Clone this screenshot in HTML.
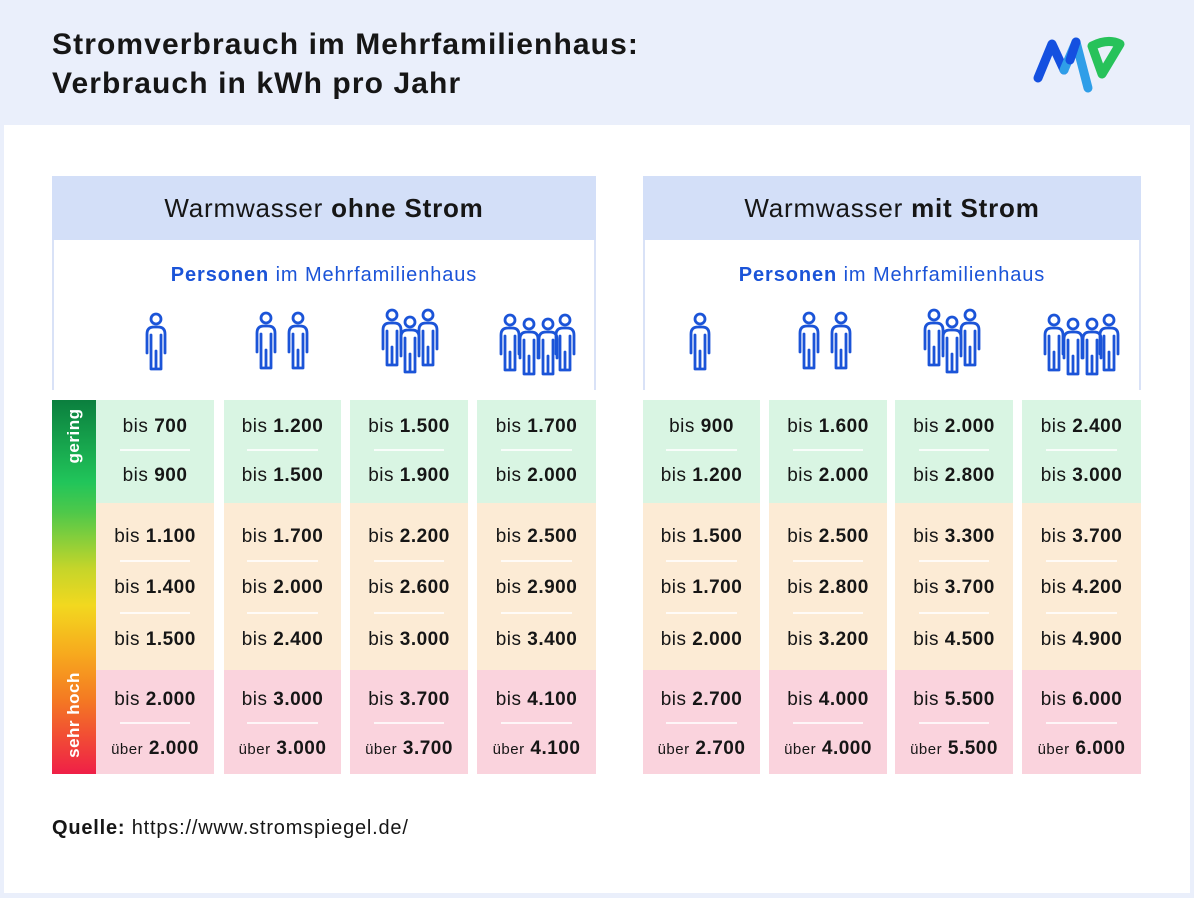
<!DOCTYPE html>
<html><head><meta charset="utf-8">
<style>
*{margin:0;padding:0;box-sizing:border-box}
body{width:1194px;height:898px;background:#eaeffb;font-family:"Liberation Sans",sans-serif;position:relative;overflow:hidden;color:#111}
.abs{position:absolute}
.title{left:52px;top:25px;font-size:30px;font-weight:bold;line-height:39px;color:#161616;letter-spacing:1.1px}
.panel{left:4px;top:125px;width:1186px;height:768px;background:#fff}
.hdr{background:#d3dff8;height:64px;font-size:26px;text-align:center;line-height:64px;color:#161616;letter-spacing:0.8px}
.sub{border-left:2px solid #d9e2f7;border-right:2px solid #d9e2f7;height:150px;background:#fff}
.pers{font-size:20px;color:#1b54d8;text-align:center;position:absolute;width:100%;top:24px;letter-spacing:0.9px}
.col{position:absolute;top:400px;height:374px}
.g{position:absolute;left:0;right:0;top:0;height:103px;background:#d9f5e3}
.o{position:absolute;left:0;right:0;top:103px;height:167px;background:#fcebd5}
.r{position:absolute;left:0;right:0;top:270px;height:104px;background:#fad3dd}
.v{position:absolute;left:0;right:0;text-align:center;font-size:19px;line-height:24px;color:#161616;letter-spacing:0.5px}
.v b{font-weight:bold}
.v small{font-size:15px}
.sep{position:absolute;left:20%;right:20%;height:2px;background:rgba(255,255,255,0.8)}
.bar{left:52px;top:400px;width:44px;height:374px;background:linear-gradient(#0b7f3e 0%,#21c55a 22%,#4ec84a 30%,#c5d52a 45%,#f2d81f 55%,#f7a91e 68%,#f47a22 80%,#ef1f47 100%)}
.vt{color:#fff;font-weight:bold;font-size:17px;transform:rotate(-90deg);transform-origin:center;white-space:nowrap;text-align:center;width:120px;letter-spacing:0.5px}
</style></head><body>
<div class="abs title">Stromverbrauch im Mehrfamilienhaus:<br>Verbrauch in kWh pro Jahr</div>
<svg class="abs" style="left:1030px;top:30px" width="100" height="70" viewBox="0 0 100 70">
<path d="M8 48 L22 14 L34 40" fill="none" stroke="#1450e0" stroke-width="9" stroke-linecap="round" stroke-linejoin="round"/>
<path d="M34 40 L46 12 L58 58" fill="none" stroke="#2f9ee8" stroke-width="9" stroke-linecap="round" stroke-linejoin="round"/>
<path d="M46 12 L40 30" stroke="#1450e0" stroke-width="9" stroke-linecap="round"/>
<path d="M62 16 Q78 8 90 14 L72 44 L62 16" fill="none" stroke="#27c25a" stroke-width="9" stroke-linecap="round" stroke-linejoin="round"/>
</svg>
<div class="abs panel"></div>

<svg width="0" height="0" style="position:absolute">
<defs>
<g id="p" fill="none" stroke="#1b54d8" stroke-width="2.8" stroke-linecap="round" stroke-linejoin="round">
<circle cx="12" cy="6" r="5"/>
<path d="M3 40 V21 Q3 14 10 14 H14 Q21 14 21 21 V40 M7 40 V22 M17 40 V22 M7 30 V56 H17 V30 M12 38 V56"/>
</g>
</defs></svg>

<div class="abs hdr" style="left:52px;top:176px;width:544px">Warmwasser <b>ohne Strom</b></div>
<div class="abs sub" style="left:52px;top:240px;width:544px">
<div class="pers"><b>Personen</b> im Mehrfamilienhaus</div>
</div>
<div class="abs hdr" style="left:643px;top:176px;width:498px">Warmwasser <b>mit Strom</b></div>
<div class="abs sub" style="left:643px;top:240px;width:498px">
<div class="pers"><b>Personen</b> im Mehrfamilienhaus</div>
</div>

<svg class="abs" style="left:0;top:0" width="1194" height="898">
<use href="#p" x="144" y="313"/>
<use href="#p" x="254" y="312"/><use href="#p" x="286" y="312"/>
<use href="#p" x="380" y="309"/><use href="#p" x="416" y="309"/><use href="#p" x="398" y="316"/>
<use href="#p" x="498" y="314"/><use href="#p" x="553" y="314"/><use href="#p" x="517" y="318"/><use href="#p" x="536" y="318"/>
<use href="#p" x="688" y="313"/>
<use href="#p" x="797" y="312"/><use href="#p" x="829" y="312"/>
<use href="#p" x="922" y="309"/><use href="#p" x="958" y="309"/><use href="#p" x="940" y="316"/>
<use href="#p" x="1042" y="314"/><use href="#p" x="1097" y="314"/><use href="#p" x="1061" y="318"/><use href="#p" x="1080" y="318"/>
</svg>

<div class="abs bar"></div>
<div class="abs vt" style="left:14px;top:426px">gering</div>
<div class="abs vt" style="left:14px;top:705px">sehr hoch</div>

<div id="cols"></div>
<script>
const cols=[
[96,118,["700","900","1.100","1.400","1.500","2.000","2.000"]],
[224,117,["1.200","1.500","1.700","2.000","2.400","3.000","3.000"]],
[350,118,["1.500","1.900","2.200","2.600","3.000","3.700","3.700"]],
[477,119,["1.700","2.000","2.500","2.900","3.400","4.100","4.100"]],
[643,117,["900","1.200","1.500","1.700","2.000","2.700","2.700"]],
[769,118,["1.600","2.000","2.500","2.800","3.200","4.000","4.000"]],
[895,118,["2.000","2.800","3.300","3.700","4.500","5.500","5.500"]],
[1022,119,["2.400","3.000","3.700","4.200","4.900","6.000","6.000"]]];
const ys=[427,476,537,588,640,700,749];
let h="";
for(const [x,w,v] of cols){
 h+=`<div class="col" style="left:${x}px;width:${w}px"><div class="g"></div><div class="o"></div><div class="r"></div>`;
 v.forEach((t,i)=>{
  const pre=i==6?'<small>über</small>':'bis';
  h+=`<div class="v" style="top:${ys[i]-400-12}px">${pre} <b>${t}</b></div>`;
 });
 [449,560,612,722].forEach(s=>h+=`<div class="sep" style="top:${s-400}px"></div>`);
 h+=`</div>`;
}
document.getElementById("cols").innerHTML=h;
</script>

<div class="abs" style="left:52px;top:817px;font-size:20px;color:#161616;letter-spacing:0.8px"><b>Quelle:</b> https://www.stromspiegel.de/</div>
</body></html>
